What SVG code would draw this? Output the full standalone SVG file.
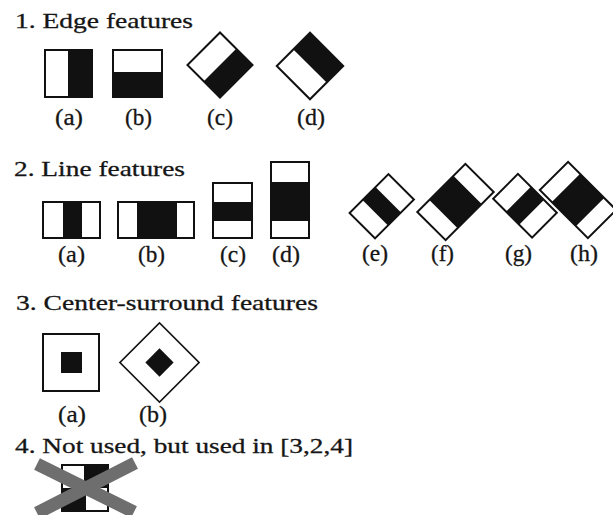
<svg xmlns="http://www.w3.org/2000/svg" width="613" height="515" viewBox="0 0 613 515">
<style>
.bg{fill:#ffffff}
.w{fill:#ffffff}
.b{fill:#111111}
.o{fill:none;stroke:#111111;stroke-width:2}
.t{font-family:"Liberation Serif","Times New Roman",serif;font-size:22px;fill:#151515;stroke:#151515;stroke-width:0.3}
.l{font-family:"Liberation Serif","Times New Roman",serif;font-size:24px;fill:#151515;stroke:#151515;stroke-width:0.3}
.x{stroke:#6e6e6e;stroke-width:13;fill:none}
</style>
<rect class="bg" x="0" y="0" width="613" height="515"/>

<g id="title1"><text class="t" x="15" y="28" textLength="178" lengthAdjust="spacingAndGlyphs">1. Edge features</text></g>
<g id="edge-a">
<rect class="w" x="45" y="50" width="47" height="47"/>
<rect class="b" x="68" y="50" width="24" height="47"/>
<rect class="o" x="45" y="50" width="47" height="47"/>
<text class="l" x="55" y="125" textLength="28" lengthAdjust="spacingAndGlyphs">(a)</text>
</g>
<g id="edge-b">
<rect class="w" x="113" y="50" width="49" height="47"/>
<rect class="b" x="113" y="72" width="49" height="25"/>
<rect class="o" x="113" y="50" width="49" height="47"/>
<text class="l" x="125" y="125" textLength="27" lengthAdjust="spacingAndGlyphs">(b)</text>
</g>
<g id="edge-c">
<g transform="translate(220,65) rotate(-45)">
<rect class="w" x="-23" y="-23" width="46" height="46"/>
<rect class="b" x="-23" y="0" width="46" height="23"/>
<rect class="o" x="-23" y="-23" width="46" height="46"/>
</g>
<text class="l" x="207" y="125" textLength="26" lengthAdjust="spacingAndGlyphs">(c)</text>
</g>
<g id="edge-d">
<g transform="translate(310,66) rotate(-45)">
<rect class="w" x="-23.5" y="-23.5" width="47" height="47"/>
<rect class="b" x="0" y="-23.5" width="23.5" height="47"/>
<rect class="o" x="-23.5" y="-23.5" width="47" height="47"/>
</g>
<text class="l" x="297" y="125" textLength="28" lengthAdjust="spacingAndGlyphs">(d)</text>
</g>

<g id="title2"><text class="t" x="14" y="176" textLength="171" lengthAdjust="spacingAndGlyphs">2. Line features</text></g>
<g id="line-a">
<rect class="w" x="43" y="202" width="57" height="36"/>
<rect class="b" x="63" y="202" width="19" height="36"/>
<rect class="o" x="43" y="202" width="57" height="36"/>
<text class="l" x="58" y="262" textLength="27" lengthAdjust="spacingAndGlyphs">(a)</text>
</g>
<g id="line-b">
<rect class="w" x="118" y="202" width="76" height="36"/>
<rect class="b" x="137" y="202" width="40" height="36"/>
<rect class="o" x="118" y="202" width="76" height="36"/>
<text class="l" x="138" y="262" textLength="27" lengthAdjust="spacingAndGlyphs">(b)</text>
</g>
<g id="line-c">
<rect class="w" x="213" y="183" width="39" height="55"/>
<rect class="b" x="213" y="202" width="39" height="19"/>
<rect class="o" x="213" y="183" width="39" height="55"/>
<text class="l" x="220" y="262" textLength="26" lengthAdjust="spacingAndGlyphs">(c)</text>
</g>
<g id="line-d">
<rect class="w" x="271" y="162" width="38" height="76"/>
<rect class="b" x="271" y="182" width="38" height="39"/>
<rect class="o" x="271" y="162" width="38" height="76"/>
<text class="l" x="272" y="262" textLength="28" lengthAdjust="spacingAndGlyphs">(d)</text>
</g>
<g id="line-e">
<g transform="translate(381.75,206.25) rotate(-45)">
<rect class="w" x="-27.5" y="-18" width="55" height="36"/>
<rect class="b" x="-9.2" y="-18" width="18.4" height="36"/>
<rect class="o" x="-27.5" y="-18" width="55" height="36"/>
</g>
<text class="l" x="362" y="261" textLength="26" lengthAdjust="spacingAndGlyphs">(e)</text>
</g>
<g id="line-f">
<g transform="translate(455.5,202) rotate(-45)">
<rect class="w" x="-34" y="-20" width="68" height="40"/>
<rect class="b" x="-17" y="-20" width="34" height="40"/>
<rect class="o" x="-34" y="-20" width="68" height="40"/>
</g>
<text class="l" x="431" y="261" textLength="23" lengthAdjust="spacingAndGlyphs">(f)</text>
</g>
<g id="line-g">
<g transform="translate(525,205.75) rotate(45)">
<rect class="w" x="-27.5" y="-17.5" width="55" height="35"/>
<rect class="b" x="-9.2" y="-17.5" width="18.4" height="35"/>
<rect class="o" x="-27.5" y="-17.5" width="55" height="35"/>
</g>
<text class="l" x="505" y="261" textLength="27" lengthAdjust="spacingAndGlyphs">(g)</text>
</g>
<g id="line-h">
<g transform="translate(578,200) rotate(45)">
<rect class="w" x="-34" y="-20" width="68" height="40"/>
<rect class="b" x="-17" y="-20" width="34" height="40"/>
<rect class="o" x="-34" y="-20" width="68" height="40"/>
</g>
<text class="l" x="570" y="261" textLength="28" lengthAdjust="spacingAndGlyphs">(h)</text>
</g>

<g id="title3"><text class="t" x="16" y="310" textLength="302" lengthAdjust="spacingAndGlyphs">3. Center-surround features</text></g>
<g id="center-a">
<rect class="w" x="43" y="334" width="56" height="57"/>
<rect class="b" x="61" y="352" width="21" height="21"/>
<rect class="o" x="43" y="334" width="56" height="57"/>
<text class="l" x="58" y="422" textLength="28" lengthAdjust="spacingAndGlyphs">(a)</text>
</g>
<g id="center-b">
<g transform="translate(159.5,362.5) rotate(45)">
<rect class="w" x="-28" y="-28" width="56" height="56"/>
<rect class="b" x="-10" y="-10" width="20" height="20"/>
<rect class="o" x="-28" y="-28" width="56" height="56" style="stroke-width:1.6"/>
</g>
<text class="l" x="139" y="422" textLength="28" lengthAdjust="spacingAndGlyphs">(b)</text>
</g>

<g id="title4"><text class="t" x="15" y="453" textLength="338" lengthAdjust="spacingAndGlyphs">4. Not used, but used in [3,2,4]</text></g>
<g id="unused">
<rect class="w" x="62" y="465" width="46" height="46"/>
<rect class="b" x="85" y="465" width="23" height="23"/>
<rect class="b" x="62" y="488" width="23" height="23"/>
<rect class="o" x="62" y="465" width="46" height="46"/>
<line class="o" x1="85" y1="465" x2="85" y2="511"/>
<line class="x" x1="37" y1="464" x2="134" y2="512"/>
<line class="x" x1="135" y1="463" x2="37" y2="513"/>
</g>
</svg>
